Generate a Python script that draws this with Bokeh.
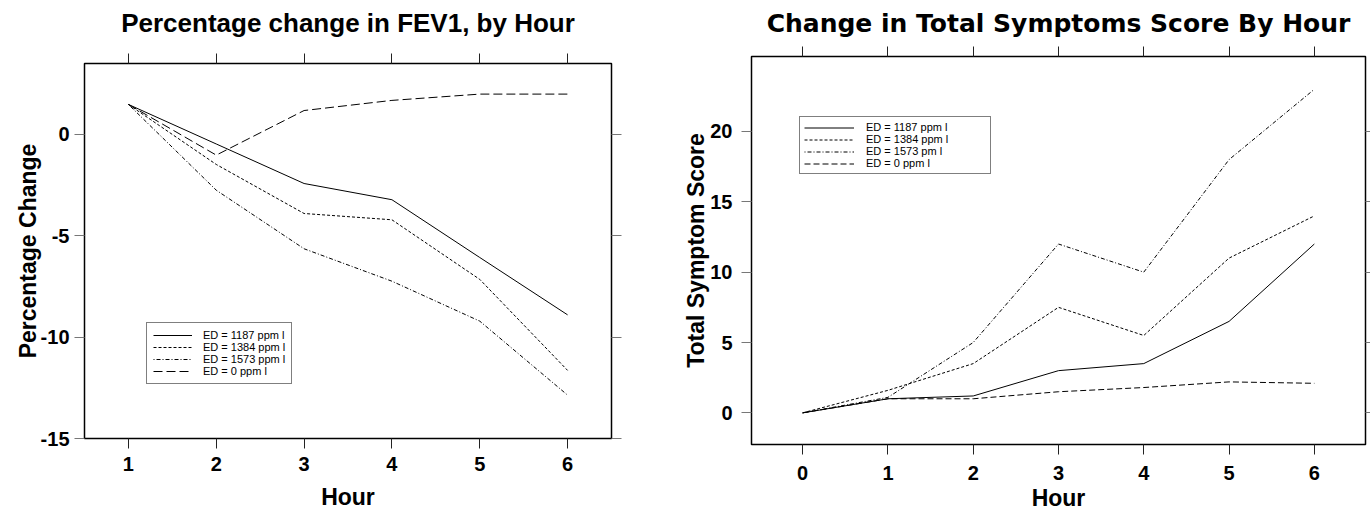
from bokeh.plotting import figure
from bokeh.models import LinearAxis, FixedTicker, Range1d, Legend, LegendItem
from bokeh.layouts import row
from bokeh.embed import file_html
from bokeh.resources import INLINE

# ---------------- data ----------------
fev_hours = [1, 2, 3, 4, 5, 6]
fev_1187 = [1.48, -0.47, -2.42, -3.22, -6.07, -8.90]
fev_1384 = [1.48, -1.48, -3.90, -4.21, -7.15, -11.64]
fev_1573 = [1.48, -2.75, -5.64, -7.24, -9.21, -12.86]
fev_0 = [1.48, -1.02, 1.18, 1.68, 1.99, 1.99]
fev_labels = ["ED = 1187 ppm l", "ED = 1384 ppm l", "ED = 1573 ppm l", "ED = 0 ppm l"]
fev_yticks = [-15, -10, -5, 0]

sym_hours = [0, 1, 2, 3, 4, 5, 6]
sym_1187 = [0, 1.0, 1.2, 3.0, 3.5, 6.5, 12.0]
sym_1384 = [0, 1.6, 3.5, 7.5, 5.5, 11.0, 14.0]
sym_1573 = [0, 1.1, 5.0, 12.0, 10.0, 18.0, 23.0]
sym_0 = [0, 1.0, 1.0, 1.5, 1.8, 2.2, 2.1]
sym_labels = ["ED = 1187 ppm l", "ED = 1384 ppm l", "ED = 1573 pm l", "ED = 0 ppm l"]
sym_yticks = [0, 5, 10, 15, 20]

FONT = "Liberation Sans"


def make_fig(title, title_font, title_size, title_standoff, xr, yr, fw, fh,
             mbl, mbr, mbt, mbb, margin):
    p = figure(frame_width=fw, frame_height=fh,
               x_range=Range1d(*xr), y_range=Range1d(*yr),
               output_backend="svg", toolbar_location=None,
               x_axis_location=None, y_axis_location=None,
               min_border_left=mbl, min_border_right=mbr,
               min_border_top=mbt, min_border_bottom=mbb,
               background_fill_color="white", border_fill_color="white",
               margin=margin)
    p.grid.visible = False
    p.outline_line_color = "black"
    p.outline_line_width = 1.5
    p.title.text = title
    p.title.align = "center"
    p.title.text_font = title_font
    p.title.text_font_size = title_size
    p.title.text_font_style = "bold"
    p.title.text_color = "black"
    p.title.standoff = title_standoff
    return p


def add_axes(p, xticks, yticks, xlabel, ylabel, x_std, x_lstd, y_std, y_lstd):
    common = dict(axis_line_color=None, major_tick_in=0, major_tick_out=10,
                  minor_tick_in=0, minor_tick_out=0,
                  major_label_text_font=FONT, major_label_text_font_style="bold",
                  major_label_text_font_size="20px", major_label_text_color="black",
                  axis_label_text_font=FONT, axis_label_text_font_style="bold",
                  axis_label_text_font_size="23px", axis_label_text_color="black")
    ylab = {v: str(v) for v in yticks}
    below = LinearAxis(ticker=FixedTicker(ticks=xticks), axis_label=xlabel,
                       major_label_standoff=x_std, axis_label_standoff=x_lstd,
                       major_tick_line_color="#222222", **common)
    left = LinearAxis(ticker=FixedTicker(ticks=yticks), axis_label=ylabel,
                      major_label_standoff=y_std, axis_label_standoff=y_lstd,
                      major_label_overrides=ylab,
                      major_tick_line_color="#777777", **common)
    hidden = dict(common)
    hidden["major_label_text_font_size"] = "1px"
    hidden["major_label_text_color"] = None
    above = LinearAxis(ticker=FixedTicker(ticks=xticks), major_label_standoff=0,
                       major_tick_line_color="#222222", **hidden)
    right = LinearAxis(ticker=FixedTicker(ticks=yticks), major_label_standoff=0,
                       major_tick_line_color="#777777", **hidden)
    p.add_layout(below, "below")
    p.add_layout(left, "left")
    p.add_layout(above, "above")
    p.add_layout(right, "right")


def add_lines(p, xs, series, labels, dashes, loc, font_size, glyph_w, standoff,
              row_h, pad, label_w):
    renderers = []
    for ys, dash in zip(series, dashes):
        r = p.line(xs, ys, line_color="black", line_width=1, line_dash=dash)
        renderers.append(r)
    items = [LegendItem(label=lab, renderers=[r]) for lab, r in zip(labels, renderers)]
    leg = Legend(items=items, location=loc, glyph_width=glyph_w, glyph_height=row_h,
                 label_standoff=standoff, label_height=row_h, label_width=label_w,
                 spacing=0, padding=pad, margin=0, border_line_color="black",
                 border_line_width=1, background_fill_color="white",
                 background_fill_alpha=1, label_text_font=FONT,
                 label_text_font_size=font_size, label_text_color="black")
    p.add_layout(leg)


# ---------------- left panel ----------------
p1 = make_fig("Percentage change in FEV1, by Hour", FONT, "26px", 31,
              (0.5, 6.5), (-15, 3.5), 527, 375, 84, 74, 80, 77, (-17, 0, 0, 0))
add_axes(p1, fev_hours, fev_yticks, "Hour", "Percentage Change", 8, 10, 5, -3)
add_lines(p1, fev_hours, [fev_1187, fev_1384, fev_1573, fev_0], fev_labels,
          ["solid", "3 2", "1 2 4 2", "9 4"], (62, 54), "11px", 39, 11, 12, 6, 20)

# ---------------- right panel ----------------
p2 = make_fig("Change in Total Symptoms Score By Hour", "DejaVu Sans", "25px", 18,
              (-0.6, 6.6), (-2.25, 25.33), 614, 388, 68, 8, 80, 77, (-24, 0, 0, -5))
add_axes(p2, sym_hours, sym_yticks, "Hour", "Total Symptom Score", 11, 2, 9, -2)
add_lines(p2, sym_hours, [sym_1187, sym_1384, sym_1573, sym_0], sym_labels,
          ["solid", "3 2", "1 2 4 2", "6 3"], (48, 270), "11px", 50, 12, 11, 4, 120)

layout = row(p1, p2, spacing=0)

open("out.html", "w").write(file_html(layout, INLINE))
